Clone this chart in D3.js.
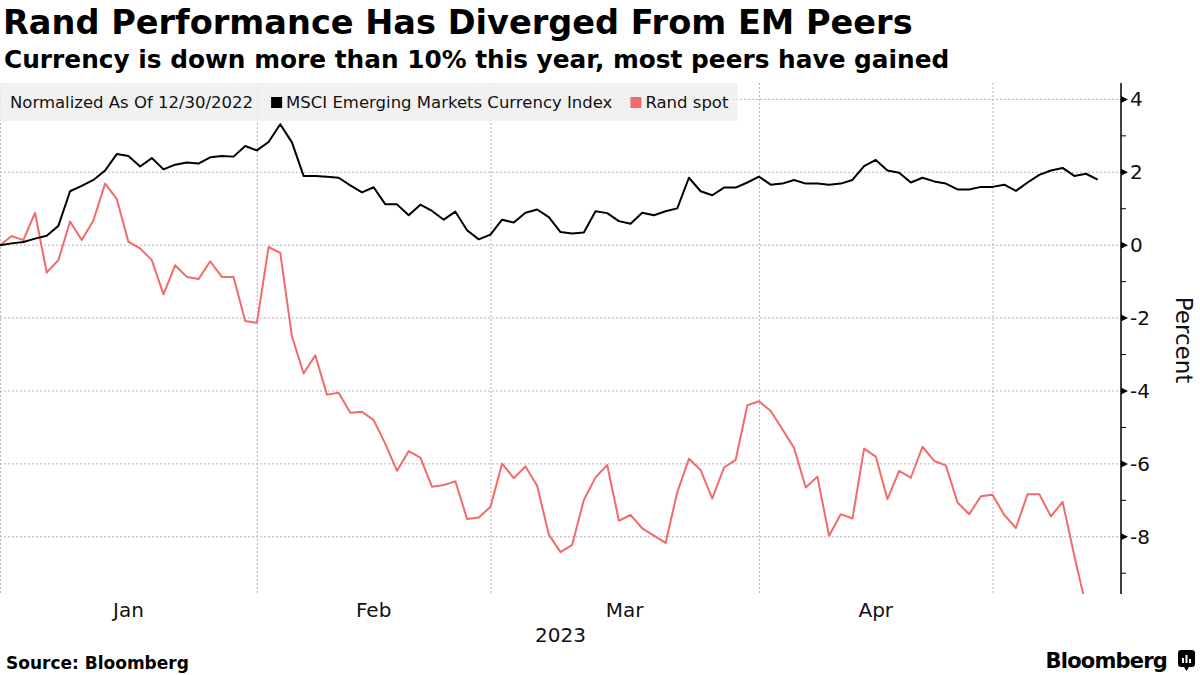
<!DOCTYPE html>
<html>
<head>
<meta charset="utf-8">
<script src="https://cdn.jsdelivr.net/npm/d3@7"></script>
<style>
  body { margin: 0; background: #fff; }
  text { font-family: "DejaVu Sans", sans-serif; }
</style>
</head>
<body>
<svg width="1200" height="675"></svg>
<script>
// values are % change since 12/30/2022, one per trading day
var msci = [0, 0.05, 0.09, 0.18, 0.26, 0.53, 1.48, 1.63, 1.79, 2.05,
  2.50, 2.45, 2.16, 2.39, 2.08, 2.21, 2.27, 2.24, 2.41, 2.45,
  2.43, 2.72, 2.60, 2.83, 3.32, 2.82, 1.90, 1.90, 1.88, 1.85,
  1.64, 1.45, 1.59, 1.12, 1.12, 0.82, 1.11, 0.94, 0.70, 0.92,
  0.41, 0.16, 0.29, 0.70, 0.62, 0.89, 0.98, 0.77, 0.36, 0.32,
  0.35, 0.93, 0.88, 0.66, 0.59, 0.89, 0.82, 0.93, 1.01, 1.85,
  1.48, 1.37, 1.58, 1.58, 1.72, 1.88, 1.66, 1.69, 1.79, 1.69,
  1.69, 1.66, 1.69, 1.79, 2.17, 2.34, 2.05, 1.99, 1.72, 1.85,
  1.75, 1.69, 1.53, 1.53, 1.60, 1.60, 1.66, 1.49, 1.72, 1.93,
  2.05, 2.12, 1.90, 1.96, 1.80];

var rand = [0, 0.25, 0.14, 0.89, -0.75, -0.41, 0.65, 0.14, 0.68, 1.69,
  1.27, 0.09, -0.09, -0.41, -1.35, -0.55, -0.87, -0.93, -0.44, -0.87,
  -0.87, -2.08, -2.13, -0.05, -0.21, -2.50, -3.52, -3.02, -4.10, -4.05,
  -4.60, -4.57, -4.80, -5.45, -6.19, -5.65, -5.83, -6.63, -6.58, -6.48,
  -7.51, -7.47, -7.18, -5.99, -6.39, -6.07, -6.60, -7.94, -8.42, -8.22,
  -6.99, -6.37, -6.03, -7.56, -7.40, -7.77, -7.97, -8.17, -6.78, -5.86,
  -6.17, -6.95, -6.10, -5.89, -4.39, -4.28, -4.55, -5.05, -5.56, -6.65,
  -6.35, -7.97, -7.38, -7.50, -5.58, -5.80, -6.97, -6.19, -6.38, -5.53,
  -5.92, -6.04, -7.06, -7.38, -6.89, -6.85, -7.40, -7.76, -6.83, -6.83,
  -7.44, -7.04, -8.52, -9.90, -10.40];

var months = ["Jan", "Feb", "Mar", "Apr"];
var monthEdges = [0, 22, 42, 65, 85]; // trading-day index where each month starts
var yTicks = [4, 2, 0, -2, -4, -6, -8];
var yMinor = [3, 1, -1, -3, -5, -7, -9];

var svg = d3.select("svg");

var pLeft = 0, pRight = 1121, pTop = 83, pBottom = 594;
var RED = "#f26b6b";

var x = d3.scaleLinear().domain([0, 96]).range([pLeft, pRight]);
var y = d3.scaleLinear().domain([-9.57, 4.45]).range([pBottom, pTop]);

// grid
var grid = svg.append("g");
grid.selectAll("line.h").data(yTicks).enter().append("line")
  .attr("x1", pLeft).attr("x2", pRight)
  .attr("y1", d => y(d)).attr("y2", d => y(d))
  .attr("stroke", "#b5b5b5").attr("stroke-dasharray", "2,2");
grid.selectAll("line.v").data(monthEdges).enter().append("line")
  .attr("x1", d => x(d) + 0.5).attr("x2", d => x(d) + 0.5)
  .attr("y1", pTop).attr("y2", pBottom)
  .attr("stroke", "#b5b5b5").attr("stroke-dasharray", "2,2");

// legend box (semi transparent, grid shows through)
var leg = svg.append("g");
var legBg = leg.append("rect").attr("x", 0).attr("y", 83).attr("height", 38)
  .attr("fill", "#eeeeee").attr("opacity", 0.85);
var legItems = [
  {label: "Normalized As Of 12/30/2022", color: null},
  {label: "MSCI Emerging Markets Currency Index", color: "#000"},
  {label: "Rand spot", color: RED}
];
var lx = 10;
legItems.forEach(function(it) {
  if (it.color) {
    leg.append("rect").attr("x", lx).attr("y", 97).attr("width", 11).attr("height", 11).attr("fill", it.color);
    lx += 15;
  }
  var t = leg.append("text").attr("x", lx).attr("y", 108).attr("font-size", 16.5).attr("fill", "#111")
    .text(it.label);
  lx += t.node().getComputedTextLength() + 18;
});
legBg.attr("width", lx - 9);

// lines, clipped to plot
svg.append("clipPath").attr("id", "plotclip").append("rect")
  .attr("x", pLeft).attr("y", pTop).attr("width", pRight - pLeft).attr("height", pBottom - pTop);

var line = d3.line().x((d, i) => x(i)).y(d => y(d));
var plot = svg.append("g").attr("clip-path", "url(#plotclip)");
plot.append("path").datum(rand).attr("d", line)
  .attr("fill", "none").attr("stroke", RED).attr("stroke-width", 2).attr("stroke-linejoin", "round");
plot.append("path").datum(msci).attr("d", line)
  .attr("fill", "none").attr("stroke", "#000").attr("stroke-width", 2).attr("stroke-linejoin", "round");

// right axis
var ax = svg.append("g");
ax.append("line").attr("x1", pRight).attr("x2", pRight).attr("y1", pTop).attr("y2", pBottom)
  .attr("stroke", "#000").attr("stroke-width", 1.5);
ax.selectAll("path.tick").data(yTicks).enter().append("path")
  .attr("d", d => "M" + pRight + "," + (y(d) - 3.5) + "L" + (pRight + 7) + "," + y(d) + "L" + pRight + "," + (y(d) + 3.5) + "Z")
  .attr("fill", "#000");
ax.selectAll("line.minor").data(yMinor).enter().append("line")
  .attr("x1", pRight).attr("x2", pRight + 5)
  .attr("y1", d => y(d)).attr("y2", d => y(d))
  .attr("stroke", "#000");
ax.selectAll("text.tl").data(yTicks).enter().append("text")
  .attr("x", pRight + 9).attr("y", d => y(d) + 7)
  .attr("font-size", 20).attr("fill", "#111")
  .text(d => d < 0 ? "-" + Math.abs(d) : d);
svg.append("text")
  .attr("transform", "translate(1176,340) rotate(90)")
  .attr("text-anchor", "middle").attr("font-size", 23).attr("fill", "#111")
  .text("Percent");

// month labels
svg.selectAll("text.month").data(months).enter().append("text")
  .attr("x", (d, i) => x((monthEdges[i] + monthEdges[i + 1]) / 2))
  .attr("y", 617).attr("text-anchor", "middle").attr("font-size", 20).attr("fill", "#111")
  .text(d => d);
svg.append("text").attr("x", (pLeft + pRight) / 2).attr("y", 642)
  .attr("text-anchor", "middle").attr("font-size", 20).attr("fill", "#111").text("2023");

// titles
svg.append("text").attr("x", 3).attr("y", 34).attr("font-size", 33.6).attr("font-weight", "bold")
  .attr("fill", "#000").text("Rand Performance Has Diverged From EM Peers");
svg.append("text").attr("x", 4).attr("y", 68).attr("font-size", 24.8).attr("font-weight", "bold")
  .attr("fill", "#000").text("Currency is down more than 10% this year, most peers have gained");

// footer
svg.append("text").attr("x", 6).attr("y", 669).attr("font-size", 17).attr("font-weight", "bold")
  .attr("fill", "#000").text("Source: Bloomberg");
svg.append("text").attr("x", 1167).attr("y", 668).attr("text-anchor", "end")
  .attr("font-family", "Roboto, sans-serif").attr("font-size", 21).attr("font-weight", "bold")
  .attr("letter-spacing", -0.8).attr("fill", "#000").text("Bloomberg");
var logo = svg.append("g").attr("transform", "translate(1178,650)");
logo.append("rect").attr("width", 17).attr("height", 17).attr("rx", 3).attr("fill", "#000");
logo.append("path").attr("d", "M6,17 L8.5,21 L11,17 Z").attr("fill", "#000");
logo.selectAll("rect.bar").data([5, 8, 4]).enter().append("rect")
  .attr("x", (d, i) => 4 + i * 3.5).attr("y", d => 13 - d).attr("width", 2).attr("height", d => d)
  .attr("fill", "#fff");
</script>
</body>
</html>
